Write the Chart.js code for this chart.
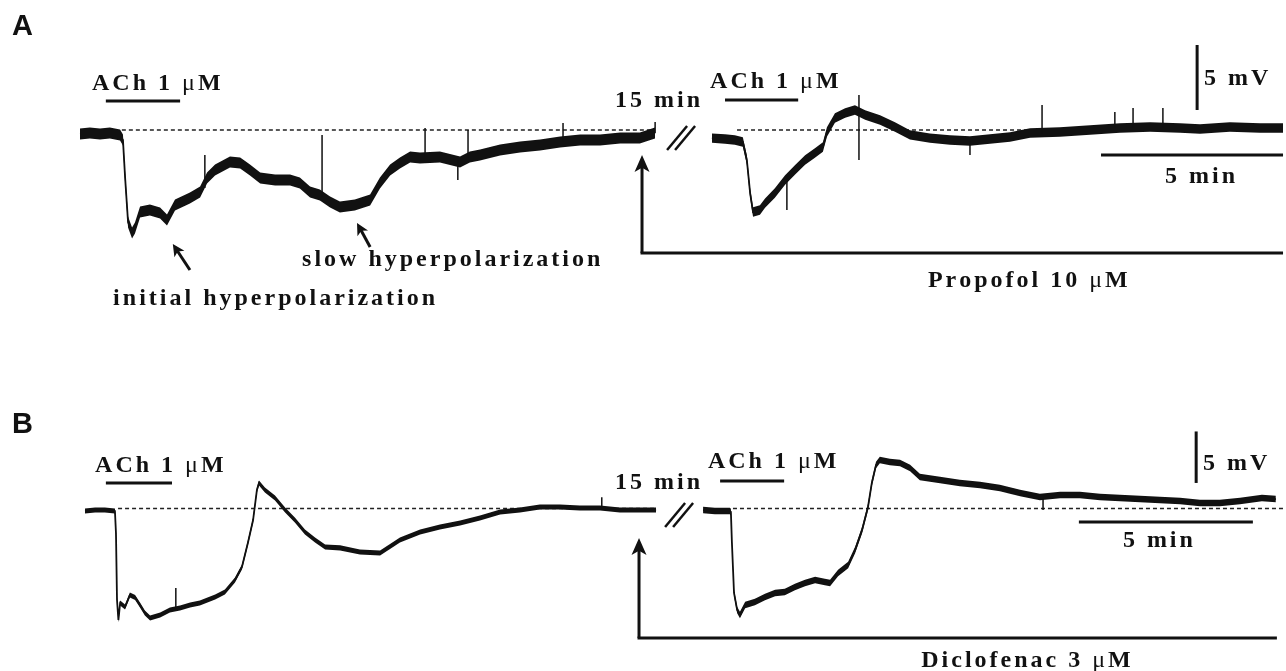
<!DOCTYPE html>
<html>
<head>
<meta charset="utf-8">
<script src="https://cdn.jsdelivr.net/npm/chart.js@4.4.0/dist/chart.umd.min.js"></script>
<style>
html, body { margin: 0; padding: 0; background: #fff; }
#quadro { position: relative; width: 1286px; height: 671px; overflow: hidden; }
canvas { position: absolute; left: 0; }
#painelA { top: 0; }
#painelB { top: 335px; }
</style>
</head>
<body>
<div id="quadro">
  <canvas id="painelA" width="1286" height="335"></canvas>
  <canvas id="painelB" width="1286" height="336"></canvas>
</div>
<script>
// ---- dados (tempo em min, potencial em mV relativo ao repouso) ----

// painel A: ACh 1 uM, depois propofol 10 uM
const tempoA1 = [0, 0.27, 0.55, 0.82, 1.10, 1.18, 1.24, 1.32, 1.43, 1.51, 1.65, 1.92, 2.20, 2.39, 2.61, 3.02, 3.30, 3.49, 3.71, 4.12, 4.40, 4.67, 4.95, 5.36, 5.77, 6.04, 6.32, 6.59, 6.87, 7.14, 7.55, 7.97, 8.24, 8.52, 8.79, 9.07, 9.34, 9.89, 10.44, 10.71, 10.99, 11.54, 12.09, 12.64, 13.19, 13.74, 14.29, 14.84, 15.38, 15.80];
const vmA1 = [-0.31, -0.23, -0.31, -0.23, -0.38, -0.77, -3.69, -7.08, -7.92, -7.54, -6.31, -6.15, -6.38, -6.92, -5.77, -5.23, -4.77, -3.69, -3.08, -2.46, -2.54, -3.08, -3.69, -3.85, -3.85, -4.08, -4.77, -5.00, -5.54, -5.92, -5.77, -5.38, -4.08, -3.08, -2.54, -2.08, -2.15, -2.08, -2.46, -2.08, -1.92, -1.54, -1.31, -1.15, -0.92, -0.77, -0.77, -0.62, -0.62, -0.23];
const tempoA2 = [17.36, 17.72, 17.99, 18.21, 18.32, 18.41, 18.49, 18.68, 18.82, 19.09, 19.37, 19.64, 19.92, 20.19, 20.41, 20.52, 20.74, 21.02, 21.29, 21.57, 21.98, 22.39, 22.80, 23.35, 23.90, 24.45, 25.00, 25.55, 26.10, 26.92, 27.75, 28.57, 29.40, 30.22, 30.77, 31.59, 32.42, 33.05];
const vmA2 = [-0.62, -0.69, -0.77, -0.92, -2.31, -4.85, -6.31, -6.15, -5.62, -4.85, -3.85, -3.08, -2.31, -1.77, -1.31, -0.15, 0.92, 1.31, 1.54, 1.15, 0.77, 0.23, -0.38, -0.62, -0.77, -0.85, -0.69, -0.54, -0.23, -0.15, 0, 0.15, 0.23, 0.15, 0.08, 0.23, 0.15, 0.15];
// transientes rapidos (tempo, nivel do tracado, ponta)
const picoA_t = [3.43, 6.65, 9.48, 10.38, 10.66, 13.27, 15.80, 19.42, 21.40, 21.40, 24.45, 26.43, 28.43, 28.93, 29.75];
const picoA_base = [-4.46, -5.15, -2.08, -2.31, -2.10, -0.92, -0.23, -3.60, 1.40, 1.40, -0.85, -0.30, 0.15, 0.20, 0.20];
const picoA_topo = [-1.92, -0.38, 0.15, -3.85, 0.00, 0.54, 0.62, -6.15, 2.69, -2.31, -1.92, 1.92, 1.38, 1.69, 1.69];
const achIniA = [0.71, 17.72];
const achFimA = [2.75, 19.73];
const propofolA = [15.44, 33.05];
const repousoA = [[1.15, 15.80], [18.05, 33.05]];

// painel B: ACh 1 uM, depois diclofenaco 3 uM
const tempoB1 = [0, 0.29, 0.57, 0.86, 0.89, 0.92, 0.96, 1.01, 1.15, 1.29, 1.44, 1.58, 1.72, 1.87, 2.16, 2.44, 2.73, 3.02, 3.30, 3.74, 4.02, 4.31, 4.51, 4.68, 4.83, 4.94, 5.00, 5.17, 5.46, 5.75, 6.03, 6.32, 6.61, 6.90, 7.33, 7.90, 8.48, 9.05, 9.63, 10.20, 10.78, 11.35, 11.93, 12.50, 13.07, 13.65, 14.22, 14.80, 15.37, 16.09, 16.41];
const vmB1 = [-0.24, -0.15, -0.15, -0.24, -2.38, -8.88, -10.83, -9.17, -9.56, -8.40, -8.64, -9.37, -10.15, -10.63, -10.34, -9.85, -9.66, -9.37, -9.17, -8.59, -8.11, -6.94, -5.68, -3.35, -1.12, 1.80, 2.48, 1.80, 1.02, -0.15, -1.12, -2.28, -3.06, -3.74, -3.83, -4.22, -4.32, -3.06, -2.28, -1.80, -1.41, -0.92, -0.34, -0.15, 0.15, 0.15, 0.05, 0.05, -0.15, -0.15, -0.15];
const tempoB2 = [17.76, 18.10, 18.53, 18.56, 18.59, 18.65, 18.74, 18.82, 18.97, 19.25, 19.54, 19.83, 20.11, 20.40, 20.69, 20.98, 21.26, 21.41, 21.64, 21.93, 22.13, 22.33, 22.50, 22.61, 22.73, 22.84, 23.13, 23.42, 23.71, 23.99, 24.57, 25.14, 25.72, 26.29, 26.87, 27.44, 28.02, 28.59, 29.17, 29.74, 30.32, 30.89, 31.47, 32.04, 32.61, 33.19, 33.82, 34.22];
const vmB2 = [-0.15, -0.24, -0.24, -0.34, -3.35, -8.20, -9.85, -10.34, -9.37, -9.08, -8.59, -8.20, -8.11, -7.62, -7.23, -6.94, -7.14, -7.23, -6.26, -5.49, -4.03, -2.09, 0.15, 2.48, 4.22, 4.71, 4.51, 4.42, 3.93, 3.06, 2.77, 2.48, 2.28, 1.99, 1.50, 1.12, 1.31, 1.31, 1.12, 1.02, 0.92, 0.83, 0.73, 0.53, 0.53, 0.73, 1.02, 0.92];
const picoB_t = [2.61, 14.85, 27.53];
const picoB_base = [-9.70, 0.05, 1.10];
const picoB_topo = [-7.73, 1.10, -0.15];
const achIniB = [0.60, 18.25];
const achFimB = [2.50, 20.09];
const diclofenacoB = [15.92, 34.25];
const repousoB = [[0.95, 16.38], [18.62, 34.51]];

// barras de calibracao
const escalaMv = 5;
const escalaMin = 5;

// ---- desenho ----
const COR = '#111';
const FONTE = '"Liberation Serif", "Times New Roman", serif';
const textoACh = [['ACh 1 ', 'bold'], ['\u03bc', 'normal'], ['M', 'bold']];

function escreve(ctx, partes, x, y, centro) {
  const esp = 3;
  const letras = [];
  let total = 0;
  partes.forEach(([txt, peso]) => {
    ctx.font = peso + ' 24px ' + FONTE;
    for (const ch of txt) {
      const w = ctx.measureText(ch).width;
      letras.push([ch, peso, w]);
      total += w + esp;
    }
  });
  total -= esp;
  let cx = centro ? x - total / 2 : x;
  ctx.textAlign = 'left';
  ctx.textBaseline = 'alphabetic';
  letras.forEach(([ch, peso, w]) => {
    ctx.font = peso + ' 24px ' + FONTE;
    ctx.fillText(ch, cx, y);
    cx += w + esp;
  });
}

function linha(ctx, x0, y0, x1, y1) {
  ctx.beginPath();
  ctx.moveTo(x0, y0);
  ctx.lineTo(x1, y1);
  ctx.stroke();
}

function seta(ctx, x0, y0, x1, y1, cabeca, abertura) {
  const a = Math.atan2(y1 - y0, x1 - x0);
  const c = Math.cos(a), s = Math.sin(a);
  linha(ctx, x0, y0, x1 - c * cabeca * 0.7, y1 - s * cabeca * 0.7);
  ctx.beginPath();
  ctx.moveTo(x1, y1);
  ctx.lineTo(x1 - cabeca * c + abertura * s, y1 - cabeca * s - abertura * c);
  ctx.lineTo(x1 - cabeca * c * 0.75, y1 - cabeca * s * 0.75);
  ctx.lineTo(x1 - cabeca * c - abertura * s, y1 - cabeca * s + abertura * c);
  ctx.closePath();
  ctx.fill();
}

function anotacoes(cfg) {
  return {
    id: 'anot' + cfg.letra,
    afterDatasetsDraw(chart) {
      const ctx = chart.ctx;
      const X = t => chart.scales.x.getPixelForValue(t);
      const Y = v => chart.scales.y.getPixelForValue(v);
      ctx.save();
      ctx.fillStyle = COR;
      ctx.strokeStyle = COR;

      ctx.font = 'bold 29px "Liberation Sans", Arial, sans-serif';
      ctx.textBaseline = 'alphabetic';
      ctx.fillText(cfg.letra, cfg.letraPos[0], cfg.letraPos[1]);

      // aplicacao de ACh
      ctx.lineWidth = 3;
      cfg.achIni.forEach((ini, i) => {
        linha(ctx, X(ini), Y(cfg.achNivel[i]), X(cfg.achFim[i]), Y(cfg.achNivel[i]));
        escreve(ctx, textoACh, X(cfg.achTxt[i][0]), Y(cfg.achTxt[i][1]));
      });

      // intervalo de 15 min
      escreve(ctx, [['15 min', 'bold']], X(cfg.quinze[0]), Y(cfg.quinze[1]));
      ctx.lineWidth = 2.5;
      const qx = X(cfg.quebra[0]), qy = Y(cfg.quebra[1]);
      [-4, 4].forEach(d => linha(ctx, qx - 11 + d, qy + 12, qx + 9 + d, qy - 12));

      // droga em perfusao
      ctx.lineWidth = 3;
      const dx = X(cfg.droga[0]), df = Y(cfg.drogaFundo);
      linha(ctx, X(cfg.droga[1]), df, dx - 1.5, df);
      seta(ctx, dx, df, dx, Y(cfg.drogaTopo), 17, 7.5);
      escreve(ctx, cfg.drogaNome, X(cfg.drogaTxt[0]), Y(cfg.drogaTxt[1]), true);

      // calibracao
      linha(ctx, X(cfg.mv[0]), Y(cfg.mv[1]), X(cfg.mv[0]), Y(cfg.mv[1] + escalaMv));
      escreve(ctx, [['5 mV', 'bold']], X(cfg.mvTxt[0]), Y(cfg.mvTxt[1]));
      linha(ctx, X(cfg.min[0]), Y(cfg.min[1]), X(cfg.min[0] + escalaMin), Y(cfg.min[1]));
      escreve(ctx, [['5 min', 'bold']], X(cfg.minTxt[0]), Y(cfg.minTxt[1]), true);

      // rotulos com setas
      ctx.lineWidth = 3;
      (cfg.rotulos || []).forEach(r => {
        escreve(ctx, [[r.txt, 'bold']], X(r.pos[0]), Y(r.pos[1]));
        seta(ctx, X(r.seta[0]), Y(r.seta[1]), X(r.seta[2]), Y(r.seta[3]), 12, 6);
      });
      ctx.restore();
    }
  };
}

function pontos(ts, vs, d) {
  return ts.map((t, i) => ({ x: t, y: vs[i] + d }));
}

function tracado(ts, vs, ruido) {
  return [
    { data: pontos(ts, vs, ruido), borderWidth: 0, borderColor: 'transparent', fill: '+1', backgroundColor: COR },
    { data: pontos(ts, vs, -ruido), borderWidth: 0, borderColor: 'transparent', fill: false },
    { data: pontos(ts, vs, 0), borderWidth: 1.8, borderColor: COR, fill: false }
  ];
}

function picos(ts, base, topo) {
  const d = [];
  ts.forEach((t, i) => { d.push({ x: t, y: base[i] }, { x: t, y: topo[i] }, { x: t, y: null }); });
  return { data: d, borderWidth: 1.5, borderColor: COR, fill: false, spanGaps: false };
}

function repouso(trechos) {
  const d = [];
  trechos.forEach(([a, b]) => { d.push({ x: a, y: 0 }, { x: b, y: 0 }, { x: b, y: null }); });
  return { data: d, borderWidth: 1.3, borderColor: '#222', borderDash: [4, 3], fill: false, spanGaps: false };
}

function criarPainel(id, geo, datasets, cfg) {
  const cv = document.getElementById(id);
  const W = cv.width, H = cv.height;
  return new Chart(cv, {
    type: 'line',
    data: { datasets: datasets },
    options: {
      responsive: false,
      animation: false,
      events: [],
      devicePixelRatio: 1,
      layout: { padding: 0, autoPadding: false },
      elements: { point: { radius: 0 }, line: { tension: 0 } },
      plugins: { legend: { display: false }, tooltip: { enabled: false } },
      scales: {
        x: { type: 'linear', display: false, min: -geo.x0 / geo.pxMin, max: (W - geo.x0) / geo.pxMin },
        y: { type: 'linear', display: false, min: (geo.y0 - H) / geo.pxMv, max: geo.y0 / geo.pxMv }
      }
    },
    plugins: [anotacoes(cfg)]
  });
}

criarPainel('painelA', { x0: 80, y0: 130, pxMin: 36.4, pxMv: 13 }, [
  picos(picoA_t, picoA_base, picoA_topo),
  ...tracado(tempoA1, vmA1, 0.42),
  ...tracado(tempoA2, vmA2, 0.36),
  repouso(repousoA)
], {
  letra: 'A', letraPos: [12, 35],
  achIni: achIniA, achFim: achFimA, achNivel: [2.23, 2.31], achTxt: [[0.33, 3.08], [17.31, 3.23]],
  quinze: [14.70, 1.77], quebra: [16.54, -0.62],
  droga: propofolA, drogaTopo: -1.92, drogaFundo: -9.46,
  drogaNome: [['Propofol 10 ', 'bold'], ['\u03bc', 'normal'], ['M', 'bold']], drogaTxt: [26.04, -12.08],
  mv: [30.69, 1.54], mvTxt: [30.88, 3.46],
  min: [28.05, -1.92], minTxt: [30.77, -4.08],
  rotulos: [
    { txt: 'initial hyperpolarization', pos: [0.91, -13.46], seta: [3.02, -10.77, 2.55, -8.77] },
    { txt: 'slow hyperpolarization', pos: [6.10, -10.46], seta: [7.97, -9.00, 7.61, -7.15] }
  ]
});

criarPainel('painelB', { x0: 85, y0: 173.5, pxMin: 34.8, pxMv: 10.3 }, [
  picos(picoB_t, picoB_base, picoB_topo),
  ...tracado(tempoB1, vmB1, 0.25),
  ...tracado(tempoB2, vmB2, 0.32),
  repouso(repousoB)
], {
  letra: 'B', letraPos: [12, 98],
  achIni: achIniB, achFim: achFimB, achNivel: [2.48, 2.67], achTxt: [[0.29, 3.54], [17.90, 3.93]],
  quinze: [15.23, 1.89], quebra: [17.10, -0.63],
  droga: diclofenacoB, drogaTopo: -2.86, drogaFundo: -12.57,
  drogaNome: [['Diclofenac 3 ', 'bold'], ['\u03bc', 'normal'], ['M', 'bold']], drogaTxt: [27.04, -15.39],
  mv: [31.93, 2.48], mvTxt: [32.13, 3.74],
  min: [28.56, -1.31], minTxt: [30.83, -3.74]
});
</script>
</body>
</html>
